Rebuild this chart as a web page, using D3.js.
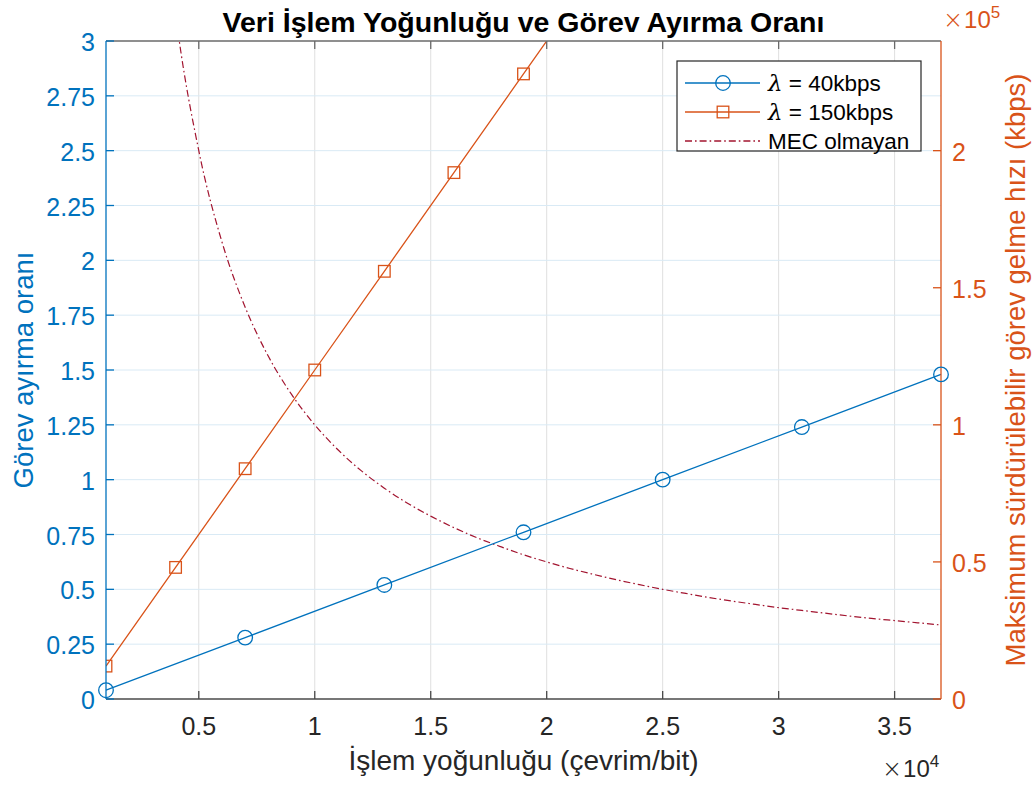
<!DOCTYPE html>
<html>
<head>
<meta charset="utf-8">
<script src="https://cdn.jsdelivr.net/npm/d3@7"></script>
<style>
  html, body { margin: 0; padding: 0; background: #fff; }
  svg { display: block; font-family: "Liberation Sans", Arial, Helvetica, sans-serif; }
</style>
</head>
<body>
<svg id="chart" width="1036" height="787"></svg>
<script>
// Processing density (cycles/bit)
const xBlue = [1000, 7000, 13000, 19000, 25000, 31000, 37000];
// Task offloading ratio, λ = 40 kbps
const ratio40 = [0.04, 0.28, 0.52, 0.76, 1.00, 1.24, 1.48];

const xOrange = [1000, 4000, 7000, 10000, 13000, 16000, 19000, 22000, 25000, 28000, 31000, 34000, 37000];
// Task offloading ratio, λ = 150 kbps
const ratio150 = [0.15, 0.60, 1.05, 1.50, 1.95, 2.40, 2.85, 3.30, 3.75, 4.20, 4.65, 5.10, 5.55];

// Maximum sustainable arrival rate without MEC (kbps)
const xMec = [3000, 4000, 5000, 6000, 7000, 8000, 9000, 10000, 11000, 12000, 13000, 14000, 15000,
              16000, 17000, 18000, 19000, 20000, 21000, 22000, 23000, 24000, 25000, 26000, 27000,
              28000, 29000, 30000, 31000, 32000, 33000, 34000, 35000, 36000, 37000];
const rateMec = [333300, 250000, 200000, 166700, 142900, 125000, 111100, 100000, 90900, 83300, 76900,
                 71400, 66700, 62500, 58800, 55600, 52600, 50000, 47600, 45500, 43500, 41700, 40000,
                 38500, 37000, 35700, 34500, 33300, 32300, 31300, 30300, 29400, 28600, 27800, 27000];

const xTicks = [5000, 10000, 15000, 20000, 25000, 30000, 35000];
const xTickLabels = ["0.5", "1", "1.5", "2", "2.5", "3", "3.5"];
const leftTicks = [0, 0.25, 0.5, 0.75, 1, 1.25, 1.5, 1.75, 2, 2.25, 2.5, 2.75, 3];
const leftTickLabels = ["0", "0.25", "0.5", "0.75", "1", "1.25", "1.5", "1.75", "2", "2.25", "2.5", "2.75", "3"];
const rightTicks = [0, 50000, 100000, 150000, 200000];
const rightTickLabels = ["0", "0.5", "1", "1.5", "2"];

const legendSymbol = "λ";
const legendLabels = [" = 40kbps", " = 150kbps", "MEC olmayan"];

const BLUE = "#0072BD", ORANGE = "#D95319", WINE = "#A2142F", DARK = "#262626";
const L = 106, R = 941, T = 41, B = 699, TICK = 8;

const svg = d3.select("#chart");
const x = d3.scaleLinear().domain([1000, 37000]).range([L, R]);
const yL = d3.scaleLinear().domain([0, 3]).range([B, T]);
const yR = d3.scaleLinear().domain([0, 240000]).range([B, T]);

svg.append("defs").append("clipPath").attr("id", "plotclip")
  .append("rect").attr("x", L).attr("y", T).attr("width", R - L).attr("height", B - T);

// grid
const grid = svg.append("g");
grid.selectAll(".gx").data(xTicks).join("line")
  .attr("x1", d => x(d)).attr("x2", d => x(d)).attr("y1", T).attr("y2", B)
  .attr("stroke", "#dfdfdf").attr("stroke-width", 1);
grid.selectAll(".gy").data(leftTicks.filter(d => d > 0 && d < 3)).join("line")
  .attr("x1", L).attr("x2", R).attr("y1", d => yL(d)).attr("y2", d => yL(d))
  .attr("stroke", "#d9eaf5").attr("stroke-width", 1);

// data
const plot = svg.append("g").attr("clip-path", "url(#plotclip)");
const lineL = d3.line().x(d => x(d[0])).y(d => yL(d[1]));
const lineR = d3.line().x(d => x(d[0])).y(d => yR(d[1])).curve(d3.curveMonotoneX);

const mecPts = xMec.map((v, i) => [v, rateMec[i]]);
plot.append("path").attr("d", lineR(mecPts)).attr("fill", "none")
  .attr("stroke", WINE).attr("stroke-width", 1.2).attr("stroke-dasharray", "7,3,1.6,3");

const oPts = xOrange.map((v, i) => [v, ratio150[i]]);
plot.append("path").attr("d", lineL(oPts)).attr("fill", "none")
  .attr("stroke", ORANGE).attr("stroke-width", 1.3);
plot.selectAll(".sq").data(oPts.filter(d => d[1] <= 3)).join("rect")
  .attr("x", d => x(d[0]) - 5.8).attr("y", d => yL(d[1]) - 5.8)
  .attr("width", 11.6).attr("height", 11.6)
  .attr("fill", "none").attr("stroke", ORANGE).attr("stroke-width", 1.3);

const bPts = xBlue.map((v, i) => [v, ratio40[i]]);
svg.append("path").attr("d", lineL(bPts)).attr("fill", "none")
  .attr("stroke", BLUE).attr("stroke-width", 1.3);

// axes frame
const ax = svg.append("g");
ax.append("line").attr("x1", L).attr("x2", R).attr("y1", B).attr("y2", B).attr("stroke", "#4a4a4a").attr("stroke-width", 1.3);
ax.append("line").attr("x1", L).attr("x2", R).attr("y1", T).attr("y2", T).attr("stroke", "#6a6a6a").attr("stroke-width", 1.3);
ax.selectAll(".xtb").data(xTicks).join("line")
  .attr("x1", d => x(d)).attr("x2", d => x(d)).attr("y1", B).attr("y2", B - TICK)
  .attr("stroke", "#4a4a4a").attr("stroke-width", 1.3);
ax.selectAll(".xtt").data(xTicks).join("line")
  .attr("x1", d => x(d)).attr("x2", d => x(d)).attr("y1", T).attr("y2", T + TICK)
  .attr("stroke", "#6a6a6a").attr("stroke-width", 1.3);
ax.selectAll(".xl").data(xTicks).join("text")
  .attr("x", d => x(d)).attr("y", 735).attr("text-anchor", "middle")
  .attr("font-size", 25).attr("fill", DARK)
  .text((d, i) => xTickLabels[i]);

// left axis
ax.append("line").attr("x1", L).attr("x2", L).attr("y1", T).attr("y2", B).attr("stroke", BLUE).attr("stroke-width", 1.3);
ax.selectAll(".ylt").data(leftTicks).join("line")
  .attr("x1", L).attr("x2", L + TICK).attr("y1", d => yL(d)).attr("y2", d => yL(d))
  .attr("stroke", BLUE).attr("stroke-width", 1.3);
ax.selectAll(".yll").data(leftTicks).join("text")
  .attr("x", 95).attr("y", d => yL(d) + 10).attr("text-anchor", "end")
  .attr("font-size", 25).attr("fill", BLUE)
  .text((d, i) => leftTickLabels[i]);

// right axis
ax.append("line").attr("x1", R).attr("x2", R).attr("y1", T).attr("y2", B).attr("stroke", ORANGE).attr("stroke-width", 1.3);
ax.selectAll(".yrt").data(rightTicks).join("line")
  .attr("x1", R).attr("x2", R - TICK).attr("y1", d => yR(d)).attr("y2", d => yR(d))
  .attr("stroke", ORANGE).attr("stroke-width", 1.3);
ax.selectAll(".yrl").data(rightTicks).join("text")
  .attr("x", 952).attr("y", d => yR(d) + 10).attr("text-anchor", "start")
  .attr("font-size", 25).attr("fill", ORANGE)
  .text((d, i) => rightTickLabels[i]);

// blue markers on top of the frame
svg.selectAll(".circ").data(bPts).join("circle")
  .attr("cx", d => x(d[0])).attr("cy", d => yL(d[1])).attr("r", 7.3)
  .attr("fill", "none").attr("stroke", BLUE).attr("stroke-width", 1.3);

// exponent labels (×10^n)
function exponent(xPos, yPos, power, color) {
  const t = svg.append("text").attr("x", xPos).attr("y", yPos).attr("text-anchor", "start")
    .attr("fill", color);
  t.append("tspan").attr("font-family", "'DejaVu Sans', sans-serif").attr("font-weight", 200)
    .attr("font-size", 24).text("×");
  t.append("tspan").attr("font-size", 24).attr("dx", 1).text("10");
  t.append("tspan").attr("font-size", 17).attr("dy", -10).text(power);
}
exponent(882, 777, "4", DARK);
exponent(943, 28, "5", ORANGE);

// titles and labels
svg.append("text").attr("x", (L + R) / 2).attr("y", 32).attr("text-anchor", "middle")
  .attr("font-size", 28.5).attr("font-weight", "bold").attr("fill", "#000")
  .text("Veri İşlem Yoğunluğu ve Görev Ayırma Oranı");
svg.append("text").attr("x", (L + R) / 2).attr("y", 770).attr("text-anchor", "middle")
  .attr("font-size", 28).attr("fill", DARK)
  .text("İşlem yoğunluğu (çevrim/bit)");
svg.append("text").attr("transform", `translate(33,${(T + B) / 2}) rotate(-90)`)
  .attr("text-anchor", "middle").attr("font-size", 27.5).attr("fill", BLUE)
  .text("Görev ayırma oranı");
svg.append("text").attr("transform", `translate(1025,${(T + B) / 2}) rotate(-90)`)
  .attr("text-anchor", "middle").attr("font-size", 27.5).attr("fill", ORANGE)
  .text("Maksimum sürdürülebilir görev gelme hızı (kbps)");

// legend
const lg = svg.append("g");
lg.append("rect").attr("x", 677).attr("y", 61).attr("width", 244).attr("height", 90)
  .attr("fill", "#fff").attr("stroke", DARK).attr("stroke-width", 1.2);
const rows = [83, 112, 141];
const styles = [
  { color: BLUE, dash: null, marker: "circle", greek: true },
  { color: ORANGE, dash: null, marker: "square", greek: true },
  { color: WINE, dash: "7,3,1.6,3", marker: null, greek: false }
];
rows.forEach((ry, i) => {
  const s = styles[i];
  lg.append("line").attr("x1", 685).attr("x2", 760).attr("y1", ry).attr("y2", ry)
    .attr("stroke", s.color).attr("stroke-width", 1.3)
    .attr("stroke-dasharray", s.dash);
  if (s.marker === "circle") {
    lg.append("circle").attr("cx", 723).attr("cy", ry).attr("r", 7.3)
      .attr("fill", "none").attr("stroke", s.color).attr("stroke-width", 1.3);
  } else if (s.marker === "square") {
    lg.append("rect").attr("x", 723 - 5.8).attr("y", ry - 5.8).attr("width", 11.6).attr("height", 11.6)
      .attr("fill", "none").attr("stroke", s.color).attr("stroke-width", 1.3);
  }
  const t = lg.append("text").attr("x", 768).attr("y", ry + 8).attr("font-size", 22.5).attr("fill", "#000");
  if (s.greek) {
    t.append("tspan").attr("font-family", "'DejaVu Serif', 'Liberation Serif', serif")
      .attr("font-style", "italic").attr("font-size", 23).text(legendSymbol);
  }
  t.append("tspan").text(legendLabels[i]);
});
</script>
</body>
</html>
